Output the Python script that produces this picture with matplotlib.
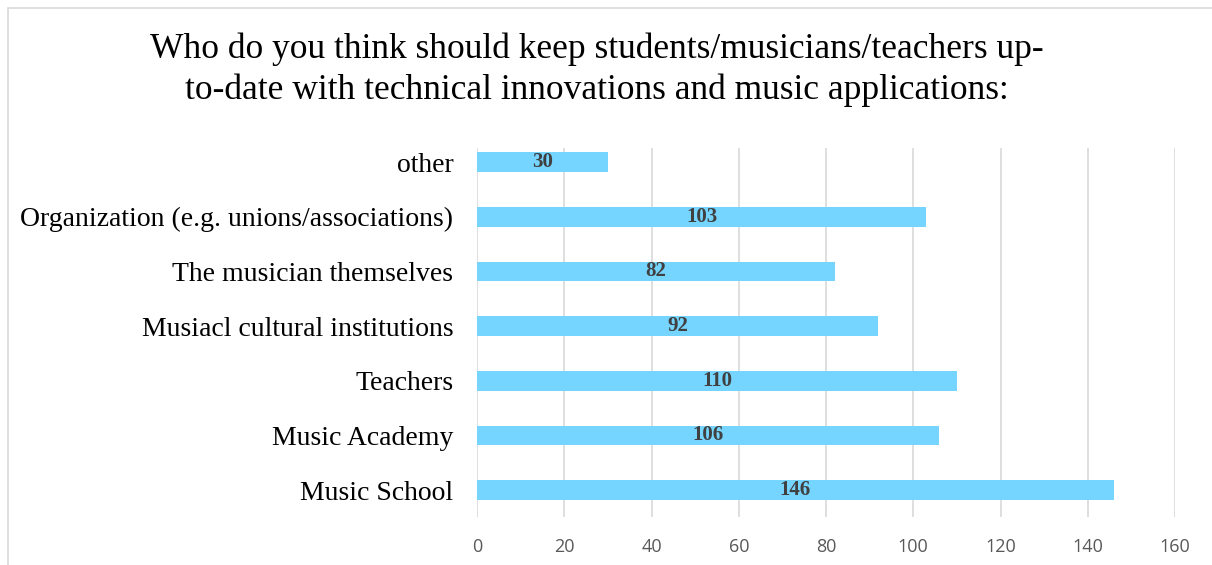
import matplotlib.pyplot as plt
from matplotlib.patches import Rectangle

# Data
categories = ["Music School", "Music Academy", "Teachers", "Musiacl cultural institutions",
              "The musician themselves", "Organization (e.g. unions/associations)", "other"]
values = [146, 106, 110, 92, 82, 103, 30]
ticks = [0, 20, 40, 60, 80, 100, 120, 140, 160]

title = ("Who do you think should keep students/musicians/teachers up-\n"
         "to-date with technical innovations and music applications:")

fig = plt.figure(figsize=(12.12, 5.65), dpi=100)
fig.patches.append(Rectangle((8 / 1212, -0.1), 1.2, (565 - 8) / 565 + 0.1,
                             transform=fig.transFigure, fill=False,
                             edgecolor="#d9d9d9", linewidth=1.2))

ax = fig.add_axes([477 / 1212, 1 - 517 / 565, (1175 - 477) / 1212, (517 - 148) / 565])

y = range(len(categories))
bars = ax.barh(y, values, height=0.36, color="#75d5ff", zorder=2)

for b, v in zip(bars, values):
    ax.text(b.get_width() / 2, b.get_y() + b.get_height() / 2, str(v),
            ha="center", va="center", fontsize=15, fontweight="bold",
            family="Liberation Serif", color="#404040", zorder=3)

ax.set_xlim(0, 160)
ax.set_ylim(-0.49, len(categories) - 0.744)
ax.set_xticks(ticks)
ax.set_yticks(list(y))
ax.set_yticklabels(categories, family="Liberation Serif", fontsize=20, color="#000000")
for lbl in ax.get_xticklabels():
    lbl.set_family("Open Sans")
    lbl.set_fontsize(13)
    lbl.set_color("#595959")

ax.grid(axis="x", color="#d9d9d9", linewidth=1.2, zorder=0)
for s in ax.spines.values():
    s.set_visible(False)
ax.tick_params(axis="both", length=0)
ax.tick_params(axis="y", pad=17)
ax.tick_params(axis="x", pad=15)

fig.text(597 / 1212, 1 - 70 / 565, title, ha="center", va="center",
         family="Liberation Serif", fontsize=25.5, color="#000000", linespacing=1.3)

fig.savefig("out.png", dpi=100)
